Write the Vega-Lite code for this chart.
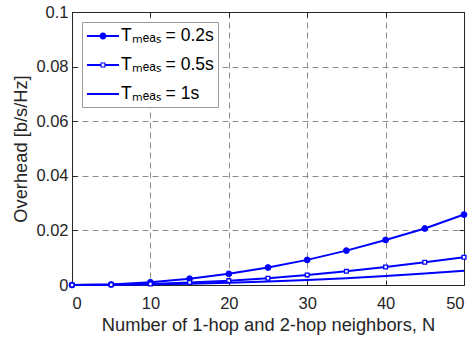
{
  "$schema": "https://vega.github.io/schema/vega-lite/v6.json",
  "width": 392,
  "height": 273,
  "autosize": {"type": "none"},
  "padding": {"left": 72, "top": 12, "right": 7, "bottom": 53},
  "background": "white",
  "config": {
    "font": "Liberation Sans",
    "view": {"stroke": null},
    "axis": {
      "labelFont": "Liberation Sans",
      "titleFont": "Liberation Sans",
      "labelFontSize": 16.5,
      "titleFontSize": 18.3,
      "titleFontWeight": "normal",
      "labelColor": "#262626",
      "titleColor": "#262626",
      "domainColor": "#262626",
      "tickColor": "#262626",
      "gridColor": "#8c8c8c",
      "gridDash": [6, 4],
      "gridWidth": 1
    }
  },
  "data": {
    "values": [
      {"N": 0, "T": "0.2s", "v": 0},
      {"N": 5, "T": "0.2s", "v": 0.0002},
      {"N": 10, "T": "0.2s", "v": 0.001},
      {"N": 15, "T": "0.2s", "v": 0.0023},
      {"N": 20, "T": "0.2s", "v": 0.0041},
      {"N": 25, "T": "0.2s", "v": 0.0064},
      {"N": 30, "T": "0.2s", "v": 0.0092},
      {"N": 35, "T": "0.2s", "v": 0.0126},
      {"N": 40, "T": "0.2s", "v": 0.0165},
      {"N": 45, "T": "0.2s", "v": 0.0207},
      {"N": 50, "T": "0.2s", "v": 0.0258},
      {"N": 0, "T": "0.5s", "v": 0},
      {"N": 5, "T": "0.5s", "v": 0.0001},
      {"N": 10, "T": "0.5s", "v": 0.0004},
      {"N": 15, "T": "0.5s", "v": 0.0009},
      {"N": 20, "T": "0.5s", "v": 0.0016},
      {"N": 25, "T": "0.5s", "v": 0.0025},
      {"N": 30, "T": "0.5s", "v": 0.0037},
      {"N": 35, "T": "0.5s", "v": 0.005},
      {"N": 40, "T": "0.5s", "v": 0.0066},
      {"N": 45, "T": "0.5s", "v": 0.0083},
      {"N": 50, "T": "0.5s", "v": 0.0102},
      {"N": 0, "T": "1s", "v": 0},
      {"N": 5, "T": "1s", "v": 0.00005},
      {"N": 10, "T": "1s", "v": 0.0002},
      {"N": 15, "T": "1s", "v": 0.00046},
      {"N": 20, "T": "1s", "v": 0.0008},
      {"N": 25, "T": "1s", "v": 0.00125},
      {"N": 30, "T": "1s", "v": 0.0018},
      {"N": 35, "T": "1s", "v": 0.0025},
      {"N": 40, "T": "1s", "v": 0.0033},
      {"N": 45, "T": "1s", "v": 0.0042},
      {"N": 50, "T": "1s", "v": 0.0052}
    ]
  },
  "layer": [
    {
      "mark": {"type": "line", "color": "#0000ff", "strokeWidth": 2},
      "encoding": {
        "x": {
          "field": "N", "type": "quantitative",
          "scale": {"domain": [0, 50], "nice": false, "zero": false},
          "axis": {
            "orient": "bottom",
            "title": "Number of 1-hop and 2-hop neighbors, N",
            "values": [0, 10, 20, 30, 40, 50],
            "tickSize": -5,
            "labelPadding": 15,
            "titlePadding": 5,
            "grid": true
          }
        },
        "y": {
          "field": "v", "type": "quantitative",
          "scale": {"domain": [0, 0.1], "nice": false},
          "axis": {
            "orient": "left",
            "title": "Overhead [b/s/Hz]",
            "values": [0, 0.02, 0.04, 0.06, 0.08, 0.1],
            "format": ".2~f",
            "tickSize": -5,
            "labelPadding": 9,
            "titlePadding": 5,
            "grid": true
          }
        },
        "detail": {"field": "T"}
      }
    },
    {
      "transform": [{"filter": "datum.T === '0.2s'"}],
      "mark": {"type": "point", "shape": "circle", "filled": true, "fill": "#0000ff", "stroke": "#0000ff", "strokeWidth": 1, "size": 34, "opacity": 1},
      "encoding": {
        "x": {"field": "N", "type": "quantitative", "axis": null},
        "y": {"field": "v", "type": "quantitative", "axis": null}
      }
    },
    {
      "transform": [{"filter": "datum.T === '0.5s'"}],
      "mark": {"type": "point", "shape": "square", "filled": true, "fill": "white", "stroke": "#0000ff", "strokeWidth": 1.3, "size": 14, "opacity": 1},
      "encoding": {
        "x": {"field": "N", "type": "quantitative", "axis": null},
        "y": {"field": "v", "type": "quantitative", "axis": null}
      }
    },
    {
      "mark": {"type": "point", "filled": true, "color": "#0000ff", "opacity": 0, "size": 1},
      "encoding": {
        "x": {
          "field": "N", "type": "quantitative",
          "axis": {"orient": "top", "labels": false, "title": null, "grid": false, "values": [0, 10, 20, 30, 40, 50], "tickSize": -5}
        },
        "y": {
          "field": "v", "type": "quantitative",
          "axis": {"orient": "right", "labels": false, "title": null, "grid": false, "values": [0, 0.02, 0.04, 0.06, 0.08, 0.1], "tickSize": -5}
        },
        "shape": {
          "field": "T", "type": "nominal",
          "scale": {
            "domain": ["0.2s", "0.5s", "1s"],
            "range": [
              "M-1.6,-0.1H1.6V0.1H-1.6Z M0.35,0A0.35,0.35 0 1 1 -0.35,0A0.35,0.35 0 1 1 0.35,0Z",
              "M-1.6,-0.1H-0.25V0.1H-1.6Z M0.25,-0.1H1.6V0.1H0.25Z M-0.25,-0.25H0.25V0.25H-0.25Z M-0.14,-0.14V0.14H0.14V-0.14Z",
              "M-1.6,-0.1H1.6V0.1H-1.6Z"
            ]
          },
          "legend": {
            "title": null,
            "orient": "top-left",
            "offset": 10,
            "padding": 4,
            "fillColor": "white",
            "strokeColor": "#9a9a9a",
            "symbolSize": 400,
            "symbolOffset": 7,
            "symbolFillColor": "#0000ff",
            "symbolStrokeWidth": 0,
            "symbolOpacity": 1,
            "labelFont": "Liberation Sans",
            "labelFontSize": 17.5,
            "labelColor": "#000000",
            "labelOffset": 8,
            "rowPadding": 10,
            "labelExpr": "'Tₘₑₐₛ = ' + datum.label",
            "encode": {"symbols": {"update": {"opacity": {"value": 1}, "fill": {"value": "#0000ff"}, "strokeWidth": {"value": 0}}}}
          }
        }
      }
    }
  ]
}
